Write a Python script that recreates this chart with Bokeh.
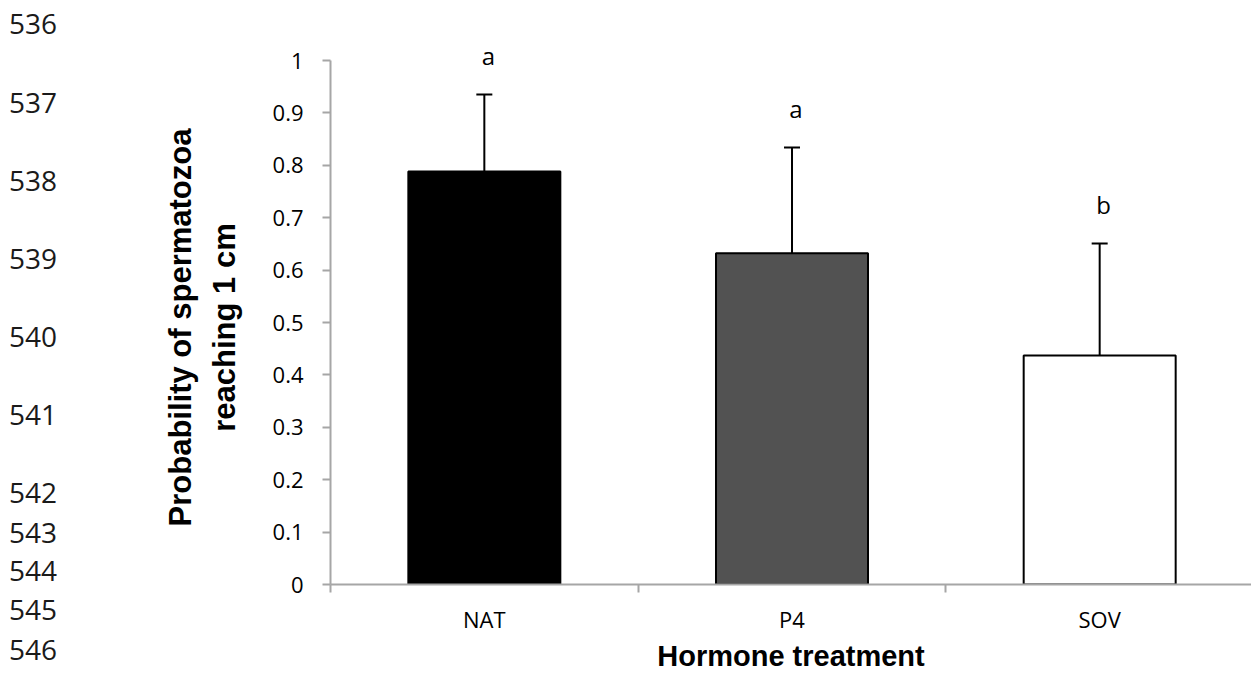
import math
from bokeh.plotting import figure
from bokeh.layouts import row
from bokeh.models import ColumnDataSource, Whisker, TeeHead, FixedTicker, Range1d, Div
from bokeh.core.properties import value
from bokeh.embed import file_html
from bokeh.resources import INLINE

# ---------------- data ----------------
categories = ["NAT", "P4", "SOV"]
means = [0.788, 0.632, 0.437]
upper_err = [0.935, 0.834, 0.651]
letters = ["a", "a", "b"]
bar_colors = ["#000000", "#525252", "#ffffff"]

y_ticks = [0, 0.1, 0.2, 0.3, 0.4, 0.5, 0.6, 0.7, 0.8, 0.9, 1]
y_tick_labels = ["0", "0.1", "0.2", "0.3", "0.4", "0.5", "0.6", "0.7", "0.8", "0.9", "1"]

line_numbers = ["536", "537", "538", "539", "540", "541", "542", "543", "544", "545", "546"]
line_number_pos = [23, 102, 180, 258, 336, 414, 492, 532, 570, 609, 649]  # page rows (px)

x_title = "Hormone treatment"
y_title_lines = ["Probability of spermatozoa", "reaching 1 cm"]
y_title_cols = [180, 224]  # page columns (px) of the two title lines
y_title_row = 327

# ---------------- layout ----------------
H = 674
NUM_W = 60            # column of manuscript line numbers (HTML text)
SIDE_W = 200          # strip with the y title
MAIN_W = 1251 - NUM_W - SIDE_W
AXIS_W = 70           # room for y tick labels in main figure
BOTTOM = 90
CAT_PX = 307.67
Y_PX = 524.0
frame_w = MAIN_W - AXIS_W
frame_h = H - BOTTOM

# ---- manuscript line numbers ----
items = "".join(
    f'<div style="position:absolute;left:9px;top:{py - 19}px;height:38px;'
    f'line-height:38px;white-space:nowrap;">{txt}</div>'
    for txt, py in zip(line_numbers, line_number_pos))
num_div = Div(text=(f'<div style="position:relative;width:{NUM_W}px;height:{H}px;'
                    f'font-family:\'Open Sans\';font-size:28px;color:#1a1a1a;">{items}</div>'),
              width=NUM_W, height=H, margin=0)

# ---- y title strip ----
side = figure(width=SIDE_W, height=H, output_backend="svg", toolbar_location=None,
              x_range=Range1d(NUM_W, NUM_W + SIDE_W), y_range=Range1d(frame_h, 0),
              x_axis_type=None, y_axis_type=None,
              min_border_left=0, min_border_right=0, min_border_top=0,
              min_border_bottom=BOTTOM)
side.outline_line_color = None
side.background_fill_color = "white"
side.border_fill_color = "white"

side.text(x=y_title_cols, y=[y_title_row] * 2, text=y_title_lines, angle=math.pi / 2,
          text_align="center", text_baseline="middle",
          text_font=value("Liberation Sans"), text_font_style="bold",
          text_font_size="31px", text_color="#000000")

# ---- main chart ----
x_pos = [i + 0.5 for i in range(len(categories))]
src = ColumnDataSource(dict(x=x_pos, top=means, upper=upper_err,
                            letter=letters, color=bar_colors))

p = figure(width=MAIN_W, height=H, output_backend="svg", toolbar_location=None,
           x_range=Range1d(0, frame_w / CAT_PX), y_range=Range1d(0, frame_h / Y_PX),
           min_border_left=AXIS_W, min_border_right=0, min_border_top=0,
           min_border_bottom=BOTTOM)
p.outline_line_color = None
p.xgrid.visible = False
p.ygrid.visible = False
p.background_fill_color = "white"
p.border_fill_color = "white"

AX = "#a6a6a6"

# y axis
ya = p.yaxis[0]
ya.ticker = FixedTicker(ticks=y_ticks, minor_ticks=[])
ya.major_label_overrides = {t: l for t, l in zip(y_ticks, y_tick_labels)}
ya.bounds = (0, 1)
ya.axis_line_color = AX
ya.axis_line_width = 2
ya.major_tick_line_color = AX
ya.major_tick_line_width = 2
ya.major_tick_in = 0
ya.major_tick_out = 8
ya.minor_tick_line_color = None
ya.major_label_text_font = "Open Sans"
ya.major_label_text_font_size = "22px"
ya.major_label_text_color = "#000000"
ya.major_label_standoff = 19

# x axis
xa = p.xaxis[0]
xa.ticker = FixedTicker(ticks=x_pos, minor_ticks=[0, 1, 2])
xa.major_label_overrides = {x: c for x, c in zip(x_pos, categories)}
xa.axis_line_color = AX
xa.axis_line_width = 2
xa.major_tick_line_color = None
xa.major_tick_in = 0
xa.major_tick_out = 0
xa.minor_tick_line_color = AX
xa.minor_tick_line_width = 2
xa.minor_tick_in = 0
xa.minor_tick_out = 8
xa.major_label_text_font = "Open Sans"
xa.major_label_text_font_size = "22px"
xa.major_label_text_color = "#000000"
xa.major_label_standoff = 11
xa.axis_label = x_title
xa.axis_label_text_font = "Liberation Sans"
xa.axis_label_text_font_style = "bold"
xa.axis_label_text_font_size = "29px"
xa.axis_label_text_color = "#000000"
xa.axis_label_standoff = 3

# bars
p.vbar(x="x", top="top", bottom=0, width=0.494, fill_color="color",
       line_color="black", line_width=2, source=src)

# error bars
p.add_layout(Whisker(source=src, base="x", upper="upper", lower="top",
                     line_color="black", line_width=2,
                     upper_head=TeeHead(size=16, line_color="black", line_width=2),
                     lower_head=None))

# significance letters
p.text(x="x", y="upper", text="letter", source=src, x_offset=4, y_offset=-39,
       text_align="center", text_baseline="middle",
       text_font=value("Open Sans"), text_font_size="24px", text_color="#000000")

layout = row(num_div, side, p, spacing=0)
open("out.html", "w").write(file_html(layout, INLINE))
